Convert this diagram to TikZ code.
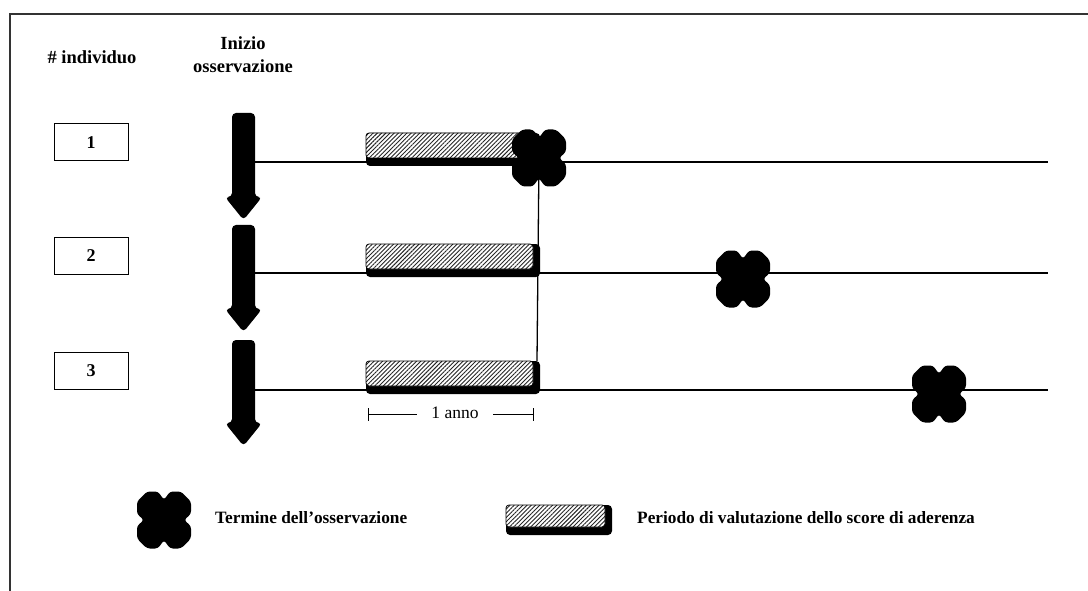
\documentclass[tikz,border=0pt]{standalone}
\usepackage{fontspec}
\setmainfont{Liberation Serif}
\usetikzlibrary{patterns.meta}
\tikzset{
  ttl/.style={font=\bfseries\fontsize{18.5}{23}\selectfont, inner sep=0pt, align=center},
  leg/.style={font=\bfseries\fontsize{17.3}{20}\selectfont, inner sep=0pt, anchor=west},
  numbox/.style={draw, line width=1pt, minimum width=74pt, minimum height=37pt, inner sep=0pt,
    font=\bfseries\fontsize{18}{20}\selectfont},
  tl/.style={line width=1.3pt},
  frameline/.style={line width=1.2pt, draw=black!80},
  barshadow/.style={fill=black, rounded corners=4pt},
  barhatch/.style={draw=black, line width=0.8pt, rounded corners=3pt, preaction={fill=white},
    pattern={Lines[angle=45, distance=3pt, line width=0.9pt]}, pattern color=black!85},
  dimline/.style={line width=1pt},
  pics/startarr/.style={code={
    \fill[rounded corners=4pt] (-11.5,0) -- (11.5,0) -- (11.5,#1-23) -- (18.5,#1-23) -- (0,#1)
      -- (-18.5,#1-23) -- (-11.5,#1-23) -- cycle;}},
  pics/endx/.style={code={
    \fill[rounded corners=3pt] (-17,-28.5) -- (-6,-28.5) -- (0,-20) -- (6,-28.5) -- (17,-28.5) -- (27,-18.5)
      -- (27,-6) -- (20,0) -- (27,6) -- (27,18.5) -- (17,28.5) -- (6,28.5) -- (0,20) -- (-6,28.5)
      -- (-17,28.5) -- (-27,18.5) -- (-27,6) -- (-20,0) -- (-27,-6) -- (-27,-18.5) -- cycle;}},
  pics/evalbar/.style={code={
    \fill[barshadow] (0,0) rectangle (174,33);
    \draw[barhatch] (0,0) rectangle (167,25);}}
}
\begin{document}
\begin{tikzpicture}[x=1pt,y=-1pt]
\useasboundingbox (0,0) rectangle (1088,591);
% frame
\coordinate (fTL) at (10,14);
\coordinate (fTR) at (1088,14);
\coordinate (fBL) at (10,591);
\draw[frameline] (fBL) -- (fTL) -- (fTR);

% headers
\node[ttl] (hind) at (92,57) {\# individuo};
\node[ttl] (hinit) at (243,55) {Inizio\\osservazione};

% individual boxes
\node[numbox] (n1) at (91,142.5) {1};
\node[numbox] (n2) at (91,256) {2};
\node[numbox] (n3) at (91,370.5) {3};

% timelines
\coordinate (s1) at (255,162); \coordinate (e1) at (1048,162);
\coordinate (s2) at (255,273); \coordinate (e2) at (1048,273);
\coordinate (s3) at (255,390); \coordinate (e3) at (1048,390);
\draw[tl] (s1) -- (e1);
\draw[tl] (s2) -- (e2);
\draw[tl] (s3) -- (e3);

% end-of-observation points
\coordinate (x1) at (539,158);
\coordinate (x2) at (743,279);
\coordinate (x3) at (939,394);
\coordinate (b3top) at (537,361);
\draw[tl] (x1) -- (b3top);

% evaluation bars
\pic at (366,133) {evalbar};
\pic at (366,244) {evalbar};
\pic at (366,361) {evalbar};

% X marks
\pic at (x1) {endx};
\pic at (x2) {endx};
\pic at (x3) {endx};

% start arrows
\pic at (243.5,113) {startarr=107};
\pic at (243.5,225) {startarr=107};
\pic at (243.5,340) {startarr=106};

% one-year dimension
\coordinate (dL) at (368,414.5);
\coordinate (dR) at (533,414.5);
\node[font=\fontsize{17.5}{20}\selectfont, inner sep=0pt] (anno) at (455,413) {1 anno};
\draw[dimline] (368,408) -- (368,421);
\draw[dimline] (533,408) -- (533,421);
\draw[dimline] (dL) -- (417,414.5);
\draw[dimline] (493,414.5) -- (dR);

% legend
\pic at (164,520) {endx};
\node[leg] (lx) at (215,518) {Termine dell’osservazione};
\fill[barshadow] (506,505) rectangle (612,535);
\draw[barhatch] (506,505) rectangle (605,527);
\node[leg] (lb) at (637,518) {Periodo di valutazione dello score di aderenza};
\end{tikzpicture}
\end{document}
